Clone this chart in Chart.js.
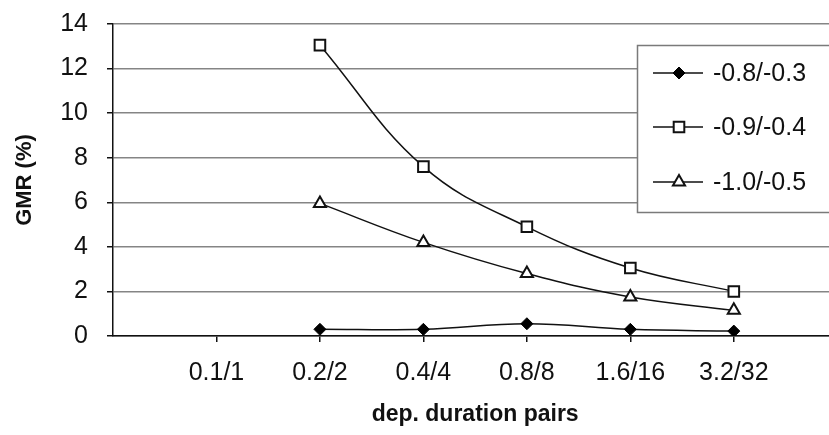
<!DOCTYPE html>
<html>
<head>
<meta charset="utf-8">
<script src="https://cdn.jsdelivr.net/npm/chart.js@4.4.0/dist/chart.umd.min.js"></script>
<style>
  html, body { margin: 0; padding: 0; background: #fff; }
  #wrap { width: 829px; height: 435px; }
</style>
</head>
<body>
<div id="wrap"><canvas id="chartCanvas" width="829" height="435"></canvas></div>
<script>
// categories along the x axis
const categories = ['0.1/1', '0.2/2', '0.4/4', '0.8/8', '1.6/16', '3.2/32'];
const seriesNames = ['-0.8/-0.3', '-0.9/-0.4', '-1.0/-0.5'];

// GMR (%) per category, null where nothing was plotted
const gmrA = [null, 0.3, 0.3, 0.55, 0.3, 0.22];
const gmrB = [null, 13.05, 7.6, 4.9, 3.05, 2.0];
const gmrC = [null, 5.95, 4.2, 2.8, 1.75, 1.15];

const yTicks = [0, 2, 4, 6, 8, 10, 12, 14];

const FONT = 'Arial, "Liberation Sans", sans-serif';

function toPoints(values) {
    return values.map((v, i) => ({ x: i + 1, y: v }));
}

// legend box sits inside the plot area, like the original
const boxLegend = {
    id: 'boxLegend',
    afterDraw(chart) {
        const ctx = chart.ctx;
        ctx.save();
        ctx.fillStyle = '#fff';
        ctx.fillRect(637, 45, 200, 168);
        ctx.strokeStyle = '#7a7a7a';
        ctx.lineWidth = 1.5;
        ctx.strokeRect(637.5, 45.5, 200, 167);
        const rows = [73, 127, 182];
        chart.data.datasets.forEach((ds, i) => {
            const y = rows[i];
            ctx.strokeStyle = '#111';
            ctx.lineWidth = 1.5;
            ctx.beginPath();
            ctx.moveTo(653, y);
            ctx.lineTo(703, y);
            ctx.stroke();
            ctx.fillStyle = ds.pointBackgroundColor;
            ctx.strokeStyle = ds.pointBorderColor;
            ctx.lineWidth = ds.pointBorderWidth;
            Chart.helpers.drawPoint(ctx, {
                pointStyle: ds.pointStyle,
                radius: ds.pointRadius,
                borderWidth: ds.pointBorderWidth
            }, 679, y);
            ctx.fillStyle = '#111';
            ctx.font = '25px ' + FONT;
            ctx.textBaseline = 'middle';
            ctx.textAlign = 'left';
            ctx.fillText(ds.label, 713, y + 1);
        });
        ctx.restore();
    }
};

// x axis title, centred under the category span
const xTitle = {
    id: 'xTitle',
    afterDraw(chart) {
        const ctx = chart.ctx;
        const xs = chart.scales.x;
        const cx = (xs.getPixelForValue(1) + xs.getPixelForValue(categories.length)) / 2;
        ctx.save();
        ctx.fillStyle = '#111';
        ctx.font = 'bold 23px ' + FONT;
        ctx.textAlign = 'center';
        ctx.textBaseline = 'middle';
        ctx.fillText('dep. duration pairs', cx, 415);
        ctx.restore();
    }
};

const ctx = document.getElementById('chartCanvas').getContext('2d');

const chart = new Chart(ctx, {
    type: 'line',
    data: {
        datasets: [
            {
                label: seriesNames[0],
                data: toPoints(gmrA),
                borderColor: '#111',
                borderWidth: 1.5,
                pointStyle: 'rectRot',
                pointRadius: 6,
                pointBorderWidth: 1,
                pointBackgroundColor: '#000',
                pointBorderColor: '#000',
                tension: 0.4
            },
            {
                label: seriesNames[1],
                data: toPoints(gmrB),
                borderColor: '#111',
                borderWidth: 1.5,
                pointStyle: 'rect',
                pointRadius: 7.5,
                pointBorderWidth: 2,
                pointBackgroundColor: '#fff',
                pointBorderColor: '#111',
                tension: 0.4
            },
            {
                label: seriesNames[2],
                data: toPoints(gmrC),
                borderColor: '#111',
                borderWidth: 1.5,
                pointStyle: 'triangle',
                pointRadius: 7,
                pointBorderWidth: 2,
                pointBackgroundColor: '#fff',
                pointBorderColor: '#111',
                tension: 0.4
            }
        ]
    },
    options: {
        responsive: false,
        animation: false,
        layout: { autoPadding: false, padding: { left: 0, top: 24, right: 0, bottom: 0 } },
        plugins: {
            legend: { display: false },
            tooltip: { enabled: false }
        },
        scales: {
            x: {
                type: 'linear',
                min: 0,
                max: 6.92,
                afterBuildTicks(scale) {
                    scale.ticks = categories.map((c, i) => ({ value: i + 1 }));
                },
                afterFit(scale) {
                    scale.height = 99;
                    scale.paddingLeft = 0;
                    scale.paddingRight = 0;
                },
                ticks: {
                    color: '#111',
                    font: { family: FONT, size: 25 },
                    padding: 16,
                    maxRotation: 0,
                    autoSkip: false,
                    callback: v => categories[v - 1] || ''
                },
                grid: {
                    drawOnChartArea: false,
                    drawTicks: true,
                    tickLength: 6,
                    tickColor: '#111',
                    lineWidth: 1.5
                },
                border: { color: '#111', width: 1.5 }
            },
            y: {
                min: 0,
                max: 14,
                afterBuildTicks(scale) {
                    scale.ticks = yTicks.map(v => ({ value: v }));
                },
                afterFit(scale) {
                    scale.width = 113;
                    scale.paddingTop = 0;
                    scale.paddingBottom = 0;
                },
                ticks: {
                    color: '#111',
                    font: { family: FONT, size: 25 },
                    padding: 19
                },
                grid: {
                    color: '#858585',
                    lineWidth: 1.5,
                    tickLength: 6,
                    tickColor: '#111'
                },
                border: { color: '#111', width: 1.5 },
                title: {
                    display: true,
                    text: 'GMR (%)',
                    color: '#111',
                    font: { family: FONT, size: 22, weight: 'bold' },
                    padding: { top: 12, bottom: 4 }
                }
            }
        }
    },
    plugins: [boxLegend, xTitle]
});
</script>
</body>
</html>
